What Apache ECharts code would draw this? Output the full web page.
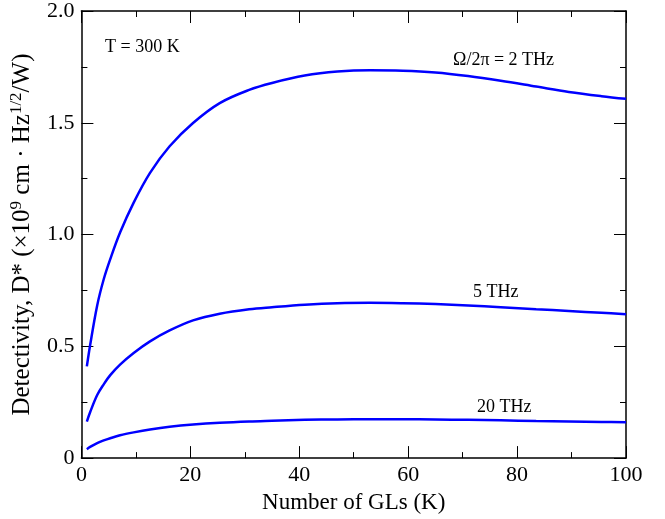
<!DOCTYPE html>
<html>
<head>
<meta charset="utf-8">
<script src="https://cdn.jsdelivr.net/npm/echarts@6/dist/echarts.min.js"></script>
<style>html,body{margin:0;padding:0;background:#fff;}#c{width:665px;height:519px;}</style>
</head>
<body>
<div id="c"></div>
<script>
const FONT = '"Liberation Serif", "Times New Roman", serif';
const glCount = [1, 1.6, 2.9, 4.1, 5.3, 7.1, 9.6, 12.6, 16.2, 20.5, 25.4, 30.8, 35, 41, 47, 53, 59, 65, 71, 77, 83.5, 89.5, 95.5, 100];
const d2THz = [0.41, 0.505, 0.683, 0.80, 0.89, 1.009, 1.143, 1.276, 1.395, 1.499, 1.588, 1.647, 1.678, 1.711, 1.729, 1.735, 1.733, 1.725, 1.709, 1.688, 1.662, 1.638, 1.619, 1.607];
const d5THz = [0.163, 0.205, 0.282, 0.33, 0.371, 0.418, 0.47, 0.522, 0.571, 0.616, 0.646, 0.666, 0.675, 0.686, 0.693, 0.695, 0.693, 0.689, 0.683, 0.675, 0.666, 0.658, 0.650, 0.644];
const d20THz = [0.04, 0.05, 0.067, 0.079, 0.089, 0.102, 0.115, 0.128, 0.14, 0.15, 0.158, 0.164, 0.167, 0.171, 0.173, 0.174, 0.174, 0.173, 0.171, 0.169, 0.166, 0.164, 0.162, 0.160];
const xTicks = [0, 20, 40, 60, 80, 100];
const yTickLabels = ['0', '0.5', '1.0', '1.5', '2.0'];
const seriesNames = ['Ω/2π = 2 THz', '5 THz', '20 THz'];

function pairs(ys) { return glCount.map((k, i) => [k, ys[i]]); }

const chart = echarts.init(document.getElementById('c'), null, {renderer: 'canvas'});
function axisLine() { return {show: true, onZero: false, lineStyle: {color: '#000', width: 1.5}}; }
function tick() { return {show: true, inside: true, length: 12, lineStyle: {color: '#000', width: 1}}; }
function minor() { return {show: true, length: 6, splitNumber: 2, lineStyle: {color: '#000', width: 1}}; }
const labelStyle = {color: '#000', fontSize: 22, fontFamily: FONT};

chart.setOption({
  animation: false,
  backgroundColor: '#fff',
  grid: {left: 79, right: 39, top: 10, bottom: 59},
  xAxis: [
    {type: 'value', min: 0, max: 100, interval: 20, position: 'bottom',
     axisLine: axisLine(), axisTick: tick(), minorTick: minor(), splitLine: {show: false},
     axisLabel: Object.assign({margin: 6, formatter: v => xTicks.includes(v) ? String(v) : ''}, labelStyle),
     name: 'Number of GLs (K)', nameLocation: 'middle', nameGap: 30,
     nameTextStyle: {color: '#000', fontSize: 23, fontFamily: FONT}},
    {type: 'value', min: 0, max: 100, interval: 20, position: 'top',
     axisLine: axisLine(), axisTick: tick(), minorTick: minor(), splitLine: {show: false},
     axisLabel: {show: false}}
  ],
  yAxis: [
    {type: 'value', min: 0, max: 2, interval: 0.5, position: 'left',
     axisLine: axisLine(), axisTick: tick(), minorTick: minor(), splitLine: {show: false},
     axisLabel: Object.assign({margin: 7, formatter: v => yTickLabels[Math.round(v / 0.5)]}, labelStyle),
     name: 'Detectivity, D* (×10{sup|9} cm · Hz{sup|1/2}/W)', nameLocation: 'middle', nameGap: 34, nameRotate: 90,
     nameTextStyle: {color: '#000', fontSize: 25, fontFamily: FONT, lineHeight: 28,
       rich: {sup: {fontSize: 17, fontFamily: FONT, color: '#000', verticalAlign: 'top', lineHeight: 16}}}},
    {type: 'value', min: 0, max: 2, interval: 0.5, position: 'right',
     axisLine: axisLine(), axisTick: tick(), minorTick: minor(), splitLine: {show: false},
     axisLabel: {show: false}}
  ],
  series: [d2THz, d5THz, d20THz].map((ys, i) => ({
    name: seriesNames[i], type: 'line', smooth: 0.35, showSymbol: false,
    data: pairs(ys), lineStyle: {color: '#0000ff', width: 2.5}, itemStyle: {color: '#0000ff'}
  })),
  graphic: [
    {type: 'text', left: 105, top: 38, style: {text: 'T = 300 K', fontSize: 18, fontFamily: FONT, fill: '#000'}},
    {type: 'text', left: 453, top: 51, style: {text: seriesNames[0], fontSize: 18, fontFamily: FONT, fill: '#000'}},
    {type: 'text', left: 473, top: 283, style: {text: seriesNames[1], fontSize: 18, fontFamily: FONT, fill: '#000'}},
    {type: 'text', left: 477, top: 398, style: {text: seriesNames[2], fontSize: 18, fontFamily: FONT, fill: '#000'}}
  ]
});
</script>
</body>
</html>
